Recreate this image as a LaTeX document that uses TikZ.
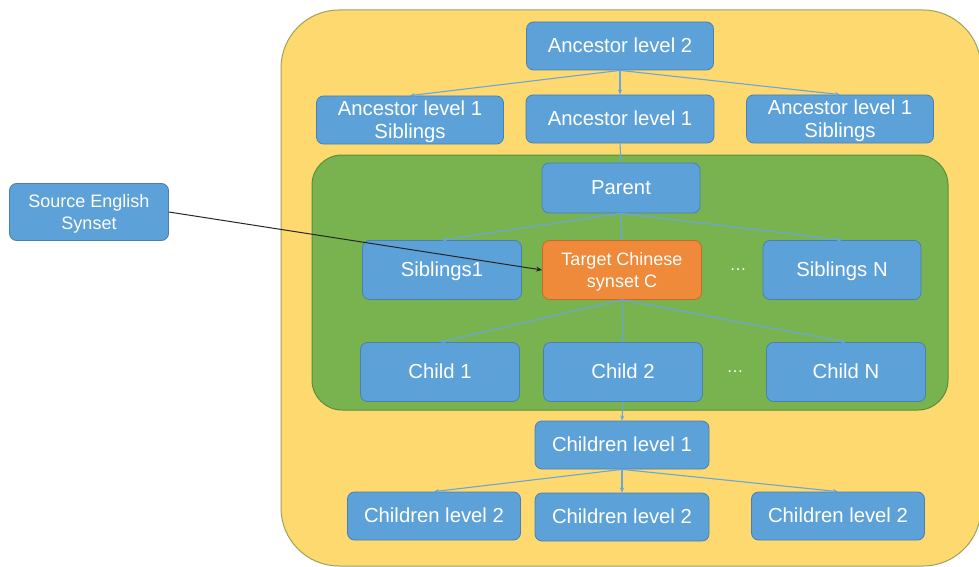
\documentclass[tikz,border=0pt]{standalone}
\usepackage{fontspec}
\setmainfont{Liberation Sans}
\usetikzlibrary{arrows.meta}
\definecolor{boxblue}{HTML}{5DA1D9}
\definecolor{boxline}{HTML}{4A80B0}
\definecolor{orangebox}{HTML}{EE8A3A}
\definecolor{orangeline}{HTML}{C8692A}
\definecolor{yellowbg}{HTML}{FDD970}
\definecolor{yellowline}{HTML}{9EA35A}
\definecolor{greenbg}{HTML}{79B350}
\definecolor{greenline}{HTML}{5A8F3A}
\definecolor{linkblue}{HTML}{6AA6DA}
\tikzset{
  box/.style={draw=boxline, line width=0.8pt, fill=boxblue, rounded corners=7pt,
    text=white, align=center, inner sep=0pt, text depth=1pt,
    font=\fontsize{20.3}{23}\selectfont},
  small/.style={font=\fontsize{18}{22}\selectfont},
  target/.style={box, small, fill=orangebox, draw=orangeline},
  link/.style={draw=linkblue, line width=1.1pt, -{Stealth[length=5pt,width=4pt]}},
  srclink/.style={draw=black!85, line width=1pt, -{Stealth[length=6pt,width=5pt]}},
  dots/.style={text=white, font=\fontsize{17}{18}\selectfont}
}
\begin{document}
\begin{tikzpicture}[x=1pt,y=-1pt]
\useasboundingbox (0,0) rectangle (979,567);
% outer and inner regions
\begin{scope}
  \clip (0,0) rectangle (979,567);
  \draw[yellowline, fill=yellowbg, line width=1pt, rounded corners=58pt]
    (281,10) rectangle (981,566);
\end{scope}
\draw[greenline, fill=greenbg, line width=1pt, rounded corners=30pt]
  (312,155) rectangle (948,410);

% ancestor levels
\node[box, minimum width=187pt, minimum height=48pt] (anc2) at (620,46) {Ancestor level 2};
\node[box, minimum width=187pt, minimum height=48pt] (sibL) at (410,120) {Ancestor level 1\\Siblings};
\node[box, minimum width=188pt, minimum height=48pt] (anc1) at (620,119) {Ancestor level 1};
\node[box, minimum width=187pt, minimum height=48pt] (sibR) at (840,119) {Ancestor level 1\\Siblings};

% parent level and target
\node[box, minimum width=158pt, minimum height=50pt] (par) at (621,188) {Parent};
\node[box, small, minimum width=159pt, minimum height=57pt] (src) at (89,212) {Source English\\Synset};
\node[box, minimum width=159pt, minimum height=59pt] (sib1) at (442,270) {Siblings1};
\node[target, minimum width=159pt, minimum height=59pt] (tgt) at (622,270) {Target Chinese\\synset C};
\node[dots] (dA) at (738,270) {\ldots};
\node[box, minimum width=158pt, minimum height=59pt] (sibN) at (842,270) {Siblings N};

% children inside the green region
\node[box, minimum width=159pt, minimum height=59pt] (ch1) at (440,372) {Child 1};
\node[box, minimum width=159pt, minimum height=59pt] (ch2) at (623,372) {Child 2};
\node[dots] (dB) at (735,372) {\ldots};
\node[box, minimum width=159pt, minimum height=59pt] (chN) at (846,372) {Child N};

% lower levels
\node[box, minimum width=174pt, minimum height=48pt] (cl1) at (622,445) {Children level 1};
\node[box, minimum width=173pt, minimum height=48pt] (cl2a) at (434,516) {Children level 2};
\node[box, minimum width=174pt, minimum height=48pt] (cl2b) at (622,517) {Children level 2};
\node[box, minimum width=173pt, minimum height=48pt] (cl2c) at (838,516) {Children level 2};

% hierarchy links
\draw[link] (anc2.south) -- (sibL.north);
\draw[link] (anc2.south) -- (anc1.north);
\draw[link] (anc2.south) -- (sibR.north);
\draw[link] (anc1.south) -- (par.north);
\draw[link] (par.south) -- (sib1.north);
\draw[link] (par.south) -- (tgt.north);
\draw[link] (par.south) -- (sibN.north);
\draw[link] (tgt.south) -- (ch1.north);
\draw[link] (tgt.south) -- (ch2.north);
\draw[link] (tgt.south) -- (chN.north);
\draw[link] (ch2.south) -- (cl1.north);
\draw[link] (cl1.south) -- (cl2a.north);
\draw[link] (cl1.south) -- (cl2b.north);
\draw[link] (cl1.south) -- (cl2c.north);

% cross-lingual mapping
\draw[srclink] (src.east) -- (tgt.west);
\end{tikzpicture}
\end{document}
